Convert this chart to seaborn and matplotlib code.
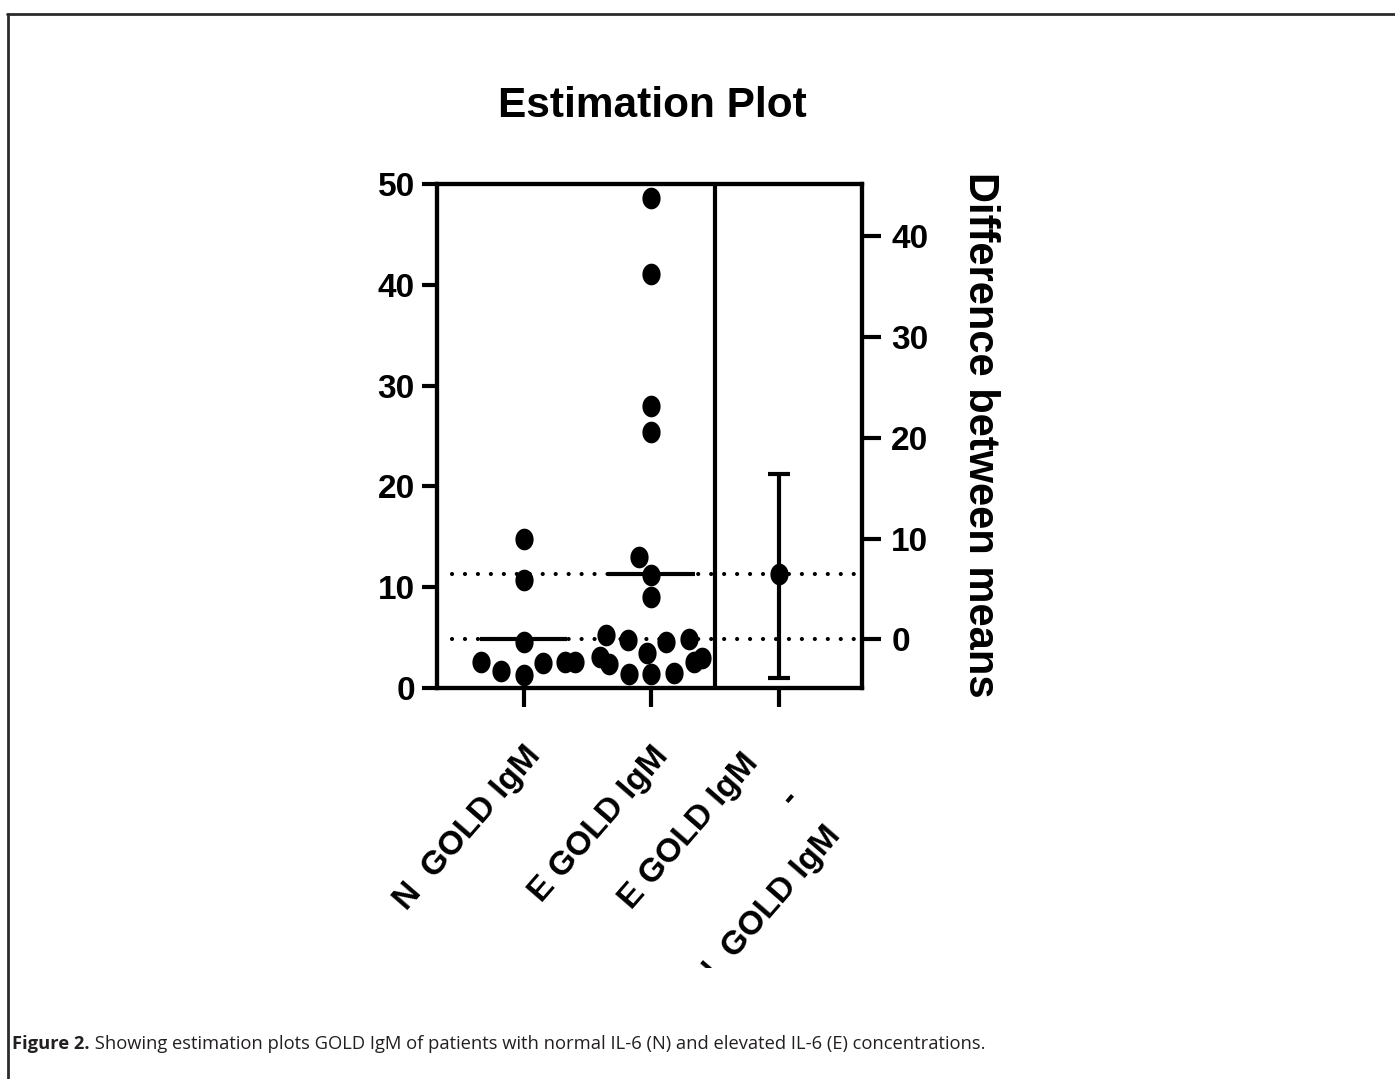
import numpy as np
import pandas as pd
import matplotlib
matplotlib.use("Agg")
import matplotlib.pyplot as plt
import seaborn as sns
from matplotlib.lines import Line2D
from matplotlib.transforms import Bbox, ScaledTranslation

# ---------------- data ----------------
categories = ["N  GOLD IgM", "E GOLD IgM", "E GOLD IgM\n-\nN  GOLD IgM"]
n_values = [14.8, 10.7, 4.6, 1.7, 2.6, 2.5, 2.6, 1.3, 2.6]
e_values = [48.6, 41.1, 28.0, 25.4, 13.0, 11.2, 9.0, 5.3, 4.6, 4.8, 4.9,
            3.5, 2.6, 3.1, 3.0, 2.4, 1.5, 1.4, 1.4]
ci_low, ci_high = -3.8, 16.4
left_ticks = [0, 10, 20, 30, 40, 50]
right_ticks = [0, 10, 20, 30, 40]
title = "Estimation Plot"
right_label = "Difference between means"
caption_bold = "Figure 2."
caption_rest = " Showing estimation plots GOLD IgM of patients with normal IL-6 (N) and elevated IL-6 (E) concentrations."

# ---------------- style ----------------
sns.set_theme(style="ticks")
plt.rcParams['font.family'] = ['Liberation Sans', 'DejaVu Sans']
plt.rcParams['font.weight'] = 'bold'
plt.rcParams['text.color'] = 'black'
plt.rcParams['axes.labelcolor'] = 'black'
plt.rcParams['xtick.color'] = 'black'
plt.rcParams['ytick.color'] = 'black'
plt.rcParams['axes.edgecolor'] = 'black'

W, H = 1395, 1079
fig = plt.figure(figsize=(W / 100, H / 100), dpi=100)
fig.patch.set_facecolor("white")

ax = fig.add_axes([437 / W, 1 - 688 / H, (862 - 437) / W, (688 - 184) / H])
ax.set_facecolor("white")

df = pd.DataFrame({
    "group": [categories[0]] * len(n_values) + [categories[1]] * len(e_values),
    "value": n_values + e_values,
})

t = np.linspace(0, 2 * np.pi, 64)
ellipse = np.column_stack([0.84 * np.cos(t), np.sin(t)])
MS = 15.6

sns.swarmplot(data=df, x="group", y="value", order=categories, color="black",
              size=MS, marker=ellipse, linewidth=0, ax=ax, zorder=4)

mean_n = float(np.mean(n_values))
mean_e = float(np.mean(e_values))
diff = mean_e - mean_n

LW = 3.0
# group mean lines
ax.hlines([mean_n, mean_e], [0 - 0.34, 1 - 0.34], [0 + 0.34, 1 + 0.34],
          colors="black", lw=LW, zorder=5)
# dotted reference lines
for m in (mean_n, mean_e):
    ax.axhline(m, xmin=0.035, xmax=1, color="black", lw=3.0,
               ls=(0, (0.01, 3.1)), dash_capstyle="round", zorder=2)
# separator
ax.axvline(1.5, color="black", lw=LW, zorder=3)

ax.set_xlim(-0.68, 2.65)
ax.set_ylim(0, 50)
ax.set_yticks(left_ticks)
ax.set_xticks(range(len(categories)))
ax.set_xticklabels(categories, rotation=49, ha="right", va="top",
                   rotation_mode="anchor", multialignment="right",
                   linespacing=2.0, fontsize=24, fontweight="bold", color="black")
ax.set_xlabel("")
ax.set_ylabel("")
ax.tick_params(axis="y", length=11, width=LW, labelsize=24, pad=5, color="black",
               labelcolor="black")
ax.tick_params(axis="x", length=14, width=LW, pad=24, color="black", labelcolor="black")
for lab in ax.get_yticklabels():
    lab.set_fontweight("bold")
for s in ax.spines.values():
    s.set_linewidth(LW)
    s.set_color("black")
    s.set_visible(True)

# right (difference) axis
ax2 = ax.twinx()
ax2.set_ylim(0 - mean_n, 50 - mean_n)
ax2.set_yticks(right_ticks)
ax2.tick_params(axis="y", length=14, width=LW, labelsize=24, pad=7, color="black",
                labelcolor="black")
for lab in ax2.get_yticklabels():
    lab.set_fontweight("bold")
for s in ax2.spines.values():
    s.set_linewidth(LW)
    s.set_color("black")
ax2.errorbar([2], [diff], yerr=[[diff - ci_low], [ci_high - diff]], fmt="none",
             ecolor="black", elinewidth=LW, capsize=8, capthick=LW, zorder=3)
sns.scatterplot(x=[2], y=[diff], ax=ax2, color="black", marker=ellipse, s=MS ** 2,
                linewidth=0, zorder=5, legend=False)
ax2.set_xlim(-0.68, 2.65)
ax2.set_ylabel("")

# third x label: shift and clip like the reference image
xl = ax.get_xticklabels()
xl[2].set_transform(xl[2].get_transform() + ScaledTranslation(-0.38, -0.07, fig.dpi_scale_trans))
clip = Bbox.from_extents(0, H - 968, W, H)
xl[2].set_clip_box(clip)
xl[2].set_clip_on(True)

# texts
fig.text(652 / W, 1 - 117 / H, title, ha="center", va="baseline",
         fontsize=30.5, fontweight="bold", color="black")
fig.text(980 / W, 1 - 435 / H, right_label, rotation=-90, ha="center", va="center",
         fontsize=30, fontweight="bold", color="black")

# caption
cap_y = 1 - 1049 / H
cap_col = "#231f20"
tb = fig.text(12 / W, cap_y, caption_bold, ha="left", va="baseline", fontsize=13.2,
              fontweight="bold", family=["Open Sans", "DejaVu Sans"], color=cap_col)
fig.canvas.draw()
bb = tb.get_window_extent()
fig.text(bb.x1 / W, cap_y, caption_rest, ha="left", va="baseline", fontsize=13.2,
         fontweight="normal", family=["Open Sans", "DejaVu Sans"], color=cap_col)

# outer frame (top and left edges)
fig.add_artist(Line2D([7 / W, 1], [1 - 13.5 / H, 1 - 13.5 / H], transform=fig.transFigure,
                      color="#2b2b2b", lw=2.0))
fig.add_artist(Line2D([8 / W, 8 / W], [0, 1 - 13.5 / H], transform=fig.transFigure,
                      color="#2b2b2b", lw=2.0))

fig.savefig("out.png", dpi=100)
